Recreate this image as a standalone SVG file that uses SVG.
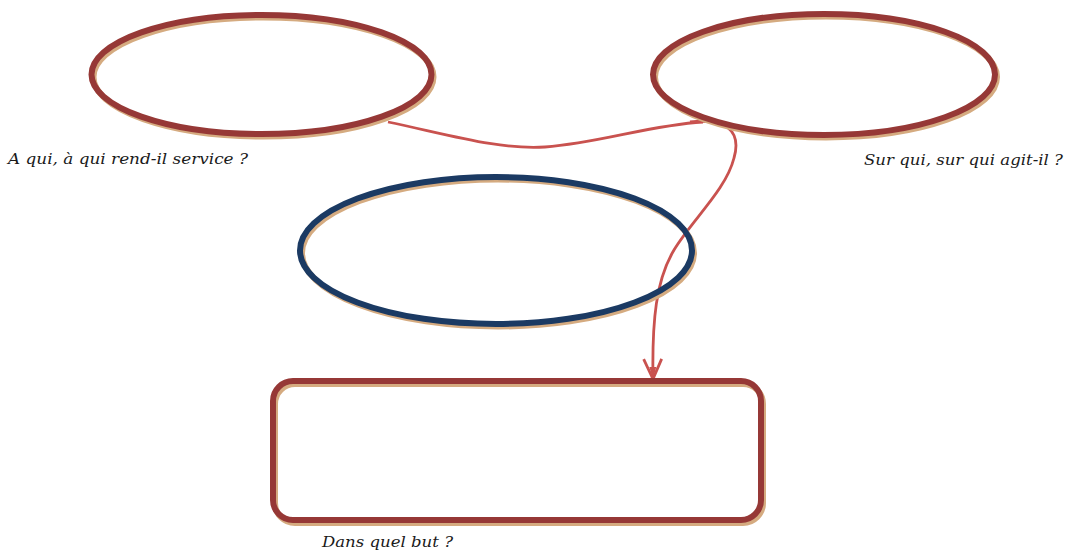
<svg xmlns="http://www.w3.org/2000/svg" width="1070" height="554" viewBox="0 0 1070 554">
  <style>
    .shadow { fill: none; stroke: #d5ab80; stroke-width: 6; }
    .red { fill: none; stroke: #963836; stroke-width: 6; }
    .blue { fill: none; stroke: #1b3a63; stroke-width: 6; }
    .link { fill: none; stroke: #c9524f; stroke-width: 2.8; }
    .label { font-family: "DejaVu Serif", "Liberation Serif", serif; font-style: italic; font-size: 15px; fill: #1a1a1a; }
  </style>
  <defs>
    <marker id="arrow" viewBox="0 0 24 24" refX="22" refY="12" markerWidth="24" markerHeight="24" markerUnits="userSpaceOnUse" orient="auto">
      <path d="M2,3 L22,12 L2,21" fill="none" stroke="#c9524f" stroke-width="2.8" stroke-linejoin="miter"/>
      <path d="M10,8.5 L22,12 L10,15.5 Z" fill="#c9524f"/>
    </marker>
  </defs>
  <rect width="1070" height="554" fill="#ffffff"/>

  <!-- connectors -->
  <g id="connectors">
    <path class="link" d="M388,122 C450,135 500,150 545,147 C600,143 650,125 703,122"/>
    <path class="link" d="M690,122 C725,118 742,130 734,158 C726,190 692,220 674,250 C656,280 652,320 653,379" marker-end="url(#arrow)"/>
  </g>

  <!-- top-left ellipse -->
  <g id="node-service">
    <ellipse class="shadow" cx="263.5" cy="77" rx="170" ry="59.5"/>
    <ellipse class="red" cx="261.5" cy="74.5" rx="170" ry="59.5"/>
    <text class="label" x="8" y="164" textLength="240" lengthAdjust="spacingAndGlyphs">A qui, à qui rend-il service ?</text>
  </g>

  <!-- top-right ellipse -->
  <g id="node-agit">
    <ellipse class="shadow" cx="826" cy="77" rx="171" ry="60.5"/>
    <ellipse class="red" cx="824" cy="74.5" rx="171" ry="60.5"/>
    <text class="label" x="864" y="165" textLength="199" lengthAdjust="spacingAndGlyphs">Sur qui, sur qui agit-il ?</text>
  </g>

  <!-- central ellipse -->
  <g id="node-center">
    <ellipse class="shadow" cx="498" cy="253" rx="196" ry="73.5"/>
    <ellipse class="blue" cx="496" cy="250.5" rx="196" ry="73.5"/>
  </g>

  <!-- bottom rectangle -->
  <g id="node-but">
    <rect class="shadow" x="275" y="384" width="488" height="139" rx="20" ry="20"/>
    <rect class="red" x="273" y="381" width="488" height="139" rx="20" ry="20"/>
    <text class="label" x="322" y="547" textLength="131" lengthAdjust="spacingAndGlyphs">Dans quel but ?</text>
  </g>
</svg>
